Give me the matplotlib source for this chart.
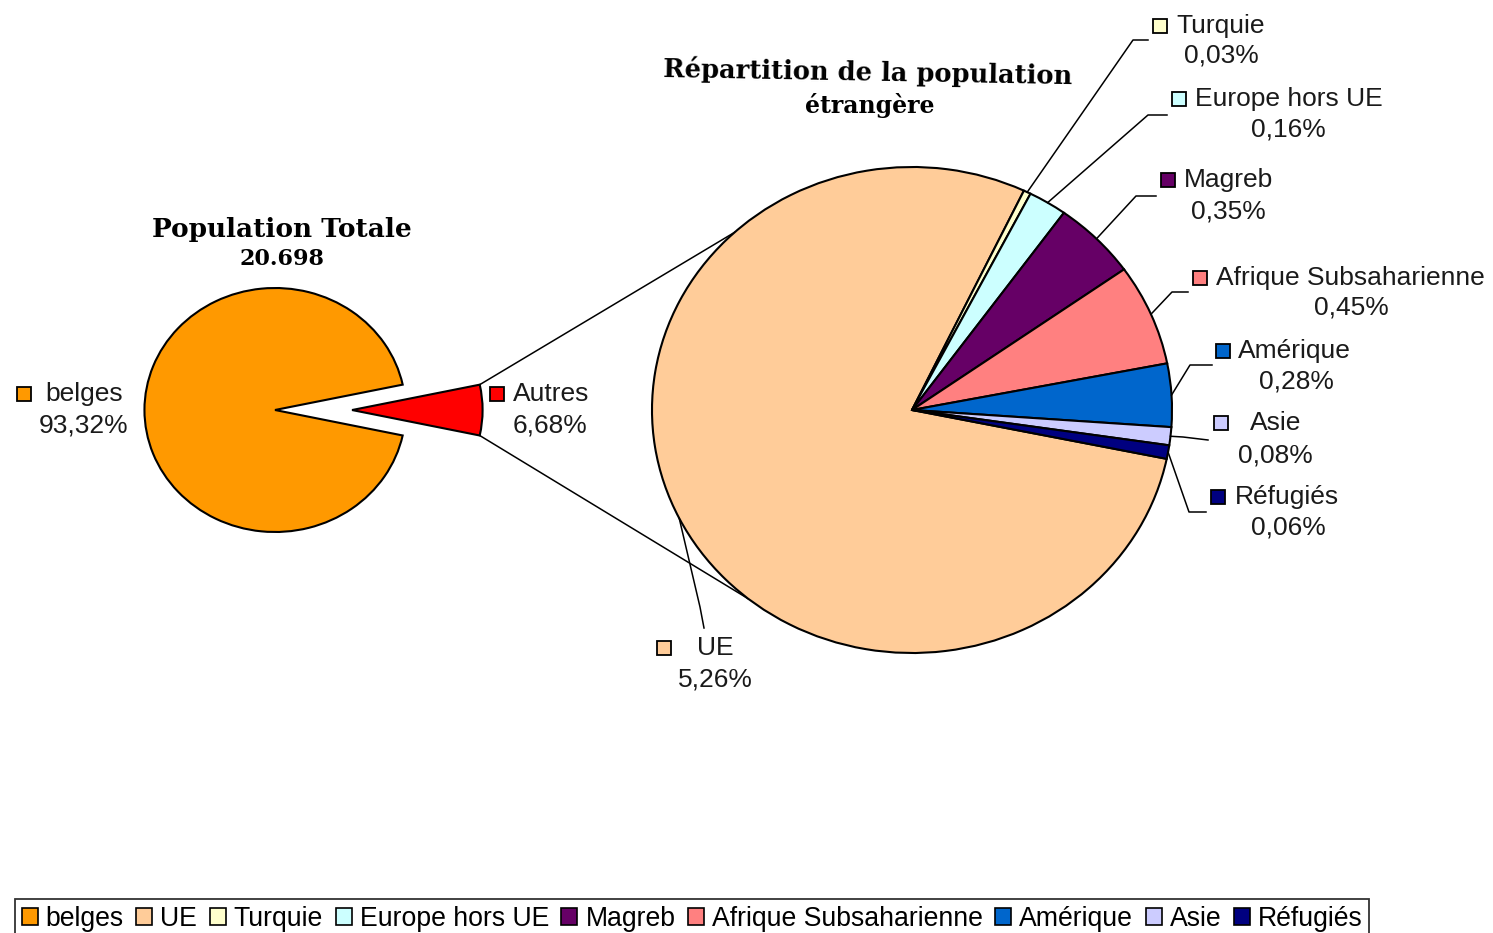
import numpy as np
import matplotlib
matplotlib.use('Agg')
import matplotlib.pyplot as plt
from matplotlib.patches import Rectangle, Patch

plt.rcParams['font.family'] = ['Liberation Sans', 'DejaVu Sans']

# ---- data -------------------------------------------------------------
total_labels = ['belges', 'Autres']
total_values = [93.32, 6.68]
total_colors = ['#FF9900', '#FF0000']

foreign_labels = ['UE', 'Turquie', 'Europe hors UE', 'Magreb',
                  'Afrique Subsaharienne', 'Amérique', 'Asie', 'Réfugiés']
foreign_values = [5.26, 0.03, 0.16, 0.35, 0.45, 0.28, 0.08, 0.06]
foreign_colors = ['#FFCC99', '#FFFFCC', '#CCFFFF', '#660066',
                  '#FF8080', '#0066CC', '#CCCCFF', '#000080']

title_total = 'Population Totale'
subtitle_total = '20.698'
title_foreign = 'Répartition de la population'
subtitle_foreign = 'étrangère'

# ---- layout (pixel space, x stretched like the original) ---------------
W, H = 1493, 933
SX = 1.07


def px(x, y):
    return x / SX, H - y


fig = plt.figure(figsize=(W / 100, H / 100), dpi=100)
ax = fig.add_axes([0, 0, 1, 1])
ax.set_axis_off()

c_left = px(275, 410)
r_left = 122
c_right = px(912, 410)
r_right = 243

wp = dict(edgecolor='black', linewidth=1.5)

# explode in matplotlib is an absolute offset (data units)
left_wedges, _ = ax.pie(total_values, colors=total_colors, startangle=12,
                        center=c_left, radius=r_left,
                        explode=[0, 72], wedgeprops=wp, frame=True)
right_wedges, _ = ax.pie(foreign_values, colors=foreign_colors,
                         startangle=-11.6, counterclock=False,
                         center=c_right, radius=r_right,
                         wedgeprops=wp, frame=True)
ax.set_aspect('auto')
ax.set_xlim(0, W / SX)
ax.set_ylim(0, H)
ax.set_axis_off()

# connector lines between "Autres" slice and the second pie
aut = left_wedges[1]
acx, acy = aut.center
for t_src, t_dst in [(aut.theta2, 133), (aut.theta1, 231)]:
    x0 = acx + r_left * np.cos(np.radians(t_src))
    y0 = acy + r_left * np.sin(np.radians(t_src))
    x1 = c_right[0] + r_right * np.cos(np.radians(t_dst))
    y1 = c_right[1] + r_right * np.sin(np.radians(t_dst))
    ax.plot([x0, x1], [y0, y1], color='black', lw=1.1, zorder=0)


def fmt(v):
    return f"{v:.2f}".replace('.', ',') + '%'


def put_label(name, value, color, mk, name_x, val_xy):
    s = 14
    mx, my = px(mk[0] - s / 2, mk[1] + s / 2)
    ax.add_patch(Rectangle((mx, my), s / SX, s, facecolor=color,
                           edgecolor='black', lw=1.3, zorder=5))
    ax.text(*px(name_x, mk[1]), name, fontsize=19, ha='left', va='center',
            color='#1a1a1a')
    ax.text(*px(*val_xy), fmt(value), fontsize=19, ha='center', va='center',
            color='#1a1a1a')


# left pie labels
put_label(total_labels[0], total_values[0], total_colors[0], (24, 394), 45, (84, 426))
put_label(total_labels[1], total_values[1], total_colors[1], (497, 394), 513, (550, 426))

# right pie labels: marker, name x, value pos, leader elbow, leader end
label_layout = [
    ((664, 648), 697, (715, 680), (700, 607), (704, 628)),
    ((1160, 26), 1176, (1221, 56), (1133, 40), (1148, 40)),
    ((1179, 99), 1195, (1288, 130), (1148, 115), (1167, 115)),
    ((1168, 180), 1184, (1228, 211), (1136, 196), (1156, 196)),
    ((1200, 278), 1216, (1351, 308), (1172, 292), (1188, 292)),
    ((1223, 351), 1238, (1296, 381), (1190, 365), (1212, 365)),
    ((1221, 423), 1250, (1275, 455), (1183, 437), (1208, 440)),
    ((1218, 497), 1235, (1288, 527), (1189, 512), (1206, 512)),
]

for w, name, val, col, lay in zip(right_wedges, foreign_labels,
                                  foreign_values, foreign_colors, label_layout):
    mk, nx, vxy, elbow, end = lay
    tm = np.radians((w.theta1 + w.theta2) / 2)
    sx = c_right[0] + r_right * np.cos(tm)
    sy = c_right[1] + r_right * np.sin(tm)
    ex, ey = px(*elbow)
    fx, fy = px(*end)
    ax.plot([sx, ex, fx], [sy, ey, fy], color='black', lw=1.1, zorder=4)
    put_label(name, val, col, mk, nx, vxy)

# titles
tfont = dict(family='DejaVu Serif', fontweight='heavy', ha='center', va='center')
ax.text(*px(282, 230), title_total, fontsize=19, **tfont)
ax.text(*px(282, 259), subtitle_total, fontsize=16, **tfont)
ax.text(*px(868, 72), title_foreign, fontsize=18.5, rotation=-1, **tfont)
ax.text(*px(870, 106), subtitle_foreign, fontsize=17, **tfont)

# legend
leg_labels = [total_labels[0]] + foreign_labels
leg_colors = [total_colors[0]] + foreign_colors
handles = [Patch(facecolor=c, edgecolor='black', lw=1.2) for c in leg_colors]
leg = fig.legend(handles, leg_labels, ncol=len(handles), loc='upper left',
                 bbox_to_anchor=(15 / W, 1 - 899 / H), fontsize=19.2,
                 handlelength=0.6, handleheight=0.6, handletextpad=0.3,
                 columnspacing=0.47, borderpad=0.25, borderaxespad=0,
                 fancybox=False, frameon=True)
leg.get_frame().set_edgecolor('black')
leg.get_frame().set_linewidth(1.3)

fig.savefig('out.png', dpi=100)
